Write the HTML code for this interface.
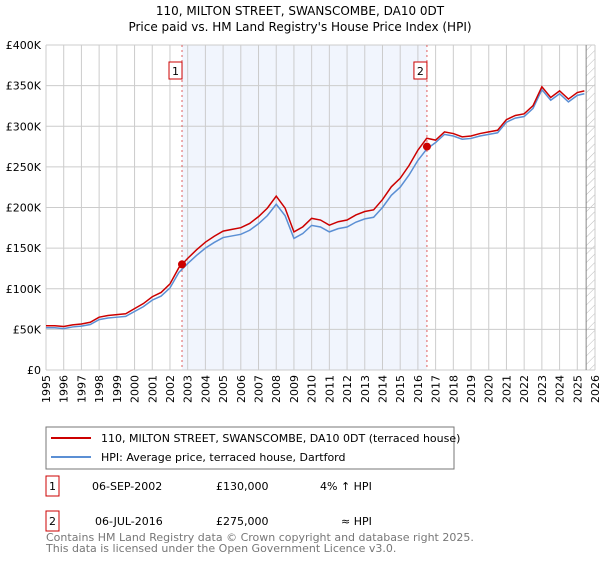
<!DOCTYPE html>
<html><head><meta charset="utf-8"><style>
body{margin:0;background:#fff;font-family:"DejaVu Sans","Liberation Sans",sans-serif;}
svg text{font-family:"DejaVu Sans","Liberation Sans",sans-serif;}
</style></head><body>
<svg id="c" width="600" height="560" viewBox="0 0 600 560">
<defs><pattern id="hatch" width="6" height="6" patternUnits="userSpaceOnUse" patternTransform="rotate(45)"><line x1="0" y1="0" x2="0" y2="6" stroke="#bbb" stroke-width="1"/></pattern></defs>
<text x="300" y="15" text-anchor="middle" font-size="12">110, MILTON STREET, SWANSCOMBE, DA10 0DT</text>
<text x="300" y="31" text-anchor="middle" font-size="12">Price paid vs. HM Land Registry's House Price Index (HPI)</text>
<g id="plot"></g>
<g>
<rect x="46" y="427" width="408" height="42" fill="#fff" stroke="#777"/>
<line x1="51" y1="438" x2="91" y2="438" stroke="#cc0000" stroke-width="2"/>
<text x="101" y="442" font-size="11">110, MILTON STREET, SWANSCOMBE, DA10 0DT (terraced house)</text>
<line x1="51" y1="457" x2="91" y2="457" stroke="#5b8fd4" stroke-width="2"/>
<text x="101" y="461" font-size="11">HPI: Average price, terraced house, Dartford</text>
</g>
<g font-size="11">
<rect x="46" y="476" width="13" height="20" fill="#fff" stroke="#cc0000"/><text x="52.5" y="490" text-anchor="middle">1</text>
<text x="92" y="490">06-SEP-2002</text><text x="216" y="490">£130,000</text><text x="320" y="490">4% ↑ HPI</text>
<rect x="46" y="511" width="13" height="20" fill="#fff" stroke="#cc0000"/><text x="52.5" y="525" text-anchor="middle">2</text>
<text x="95" y="525">06-JUL-2016</text><text x="216" y="525">£275,000</text><text x="341" y="525">≈ HPI</text>
</g>
<text x="46" y="541" font-size="11" fill="#777">Contains HM Land Registry data © Crown copyright and database right 2025.</text>
<text x="46" y="552" font-size="11" fill="#777">This data is licensed under the Open Government Licence v3.0.</text>
</svg>
<script>
const years=[1995,1995.5,1996,1996.5,1997,1997.5,1998,1998.5,1999,1999.5,2000,2000.5,2001,2001.5,2002,2002.5,2003,2003.5,2004,2004.5,2005,2005.5,2006,2006.5,2007,2007.5,2008,2008.5,2009,2009.5,2010,2010.5,2011,2011.5,2012,2012.5,2013,2013.5,2014,2014.5,2015,2015.5,2016,2016.5,2017,2017.5,2018,2018.5,2019,2019.5,2020,2020.5,2021,2021.5,2022,2022.5,2023,2023.5,2024,2024.5,2025,2025.4];
const hpi=[52,52,51,53,54,56,62,64,65,66,72,78,86,91,101,120,131,141,150,157,163,165,167,172,180,190,204,190,162,168,178,176,170,174,176,182,186,188,200,215,225,240,258,272,280,290,288,284,285,288,290,292,305,310,312,322,345,332,340,330,338,340];
const saleDates=[2002.68,2016.51];
const salePrices=[130,275];
const saleLabels=["1","2"];
const yTicks=[0,50,100,150,200,250,300,350,400];
const yTickLabels=["£0","£50K","£100K","£150K","£200K","£250K","£300K","£350K","£400K"];
const xTicks=[1995,1996,1997,1998,1999,2000,2001,2002,2003,2004,2005,2006,2007,2008,2009,2010,2011,2012,2013,2014,2015,2016,2017,2018,2019,2020,2021,2022,2023,2024,2025,2026];

const L=46,R=595,T=45,B=370;
const X=v=>L+(v-1995)/(2026-1995)*(R-L);
const Y=v=>B-v/400*(B-T);
const NS="http://www.w3.org/2000/svg";
const g=document.getElementById('plot');
function mk(t,a){const e=document.createElementNS(NS,t);for(const k in a)e.setAttribute(k,a[k]);g.appendChild(e);return e;}
let sh=mk('rect',{x:X(saleDates[0]),y:T,width:X(saleDates[1])-X(saleDates[0]),height:B-T,fill:'#eef3fc',opacity:0.8});


let ht=mk('rect',{x:X(2025.5),y:T,width:R-X(2025.5),height:B-T,fill:'url(#hatch)'});


xTicks.forEach((v,i)=>{
  let l=mk('line',{x1:X(v),x2:X(v),y1:T,y2:B,stroke:'#ccc','stroke-width':1});
  
  
  let t=mk('text',{x:0,y:0,'font-size':11,'text-anchor':'end',transform:`translate(${X(v)+4},${B+5}) rotate(-90)`});
  t.textContent=v;
  
  
});
yTicks.forEach((v,i)=>{
  let l=mk('line',{x1:L,x2:R,y1:Y(v),y2:Y(v),stroke:'#ccc','stroke-width':1});
  
  
  let t=mk('text',{x:L-5,y:Y(v)+4,'font-size':11,'text-anchor':'end'});
  t.textContent=yTickLabels[i];
  
  
});
let ax=mk('line',{x1:X(2025.5),x2:X(2025.5),y1:T,y2:B,stroke:'#888','stroke-width':1});


saleDates.forEach((d,i)=>{
  let l=mk('line',{x1:X(d),x2:X(d),y1:T,y2:B,stroke:'#e06060','stroke-width':1,'stroke-dasharray':'2,3'});
  
  
  let r=mk('rect',{x:X(d)-13,y:62,width:13,height:17,fill:'#fff',stroke:'#cc0000'});
  
  
  let t=mk('text',{x:X(d)-6.5,y:75,'font-size':11,'text-anchor':'middle'});
  t.textContent=saleLabels[i];
  
  
});
const ptsH=years.map((y,i)=>X(y)+','+Y(hpi[i])).join(' ');
let hl=mk('polyline',{points:ptsH,fill:'none',stroke:'#5b8fd4','stroke-width':1.5});


function hpiAt(d){for(let i=1;i<years.length;i++){if(years[i]>=d){const f=(d-years[i-1])/(years[i]-years[i-1]);return hpi[i-1]+f*(hpi[i]-hpi[i-1]);}}return hpi[hpi.length-1];}
const ptsP=years.map((y,i)=>{let k=0;for(let j=0;j<saleDates.length;j++)if(y>=saleDates[j])k=j;const r=salePrices[k]/hpiAt(saleDates[k]);return X(y)+','+Y(hpi[i]*r);}).join(' ');
let pl=mk('polyline',{points:ptsP,fill:'none',stroke:'#cc0000','stroke-width':1.5});


saleDates.forEach((d,i)=>{
  let c=mk('circle',{cx:X(d),cy:Y(salePrices[i]),r:4,fill:'#cc0000'});
  
  
});
</script>
</body></html>
